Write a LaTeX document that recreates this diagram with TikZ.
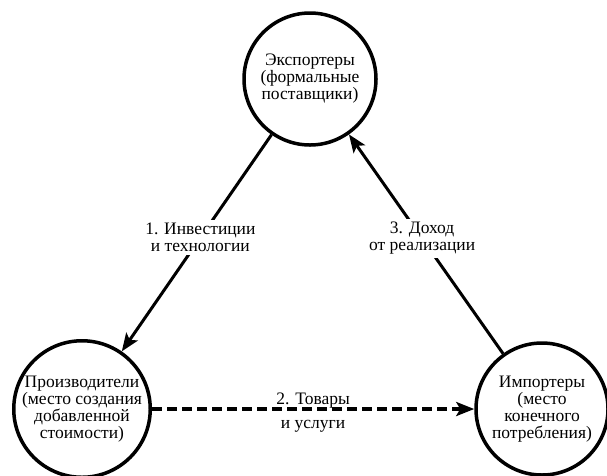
\documentclass[tikz,border=0pt]{standalone}
\usepackage{fontspec}
\setmainfont{Liberation Serif}
\usetikzlibrary{arrows.meta}
\begin{document}
\begin{tikzpicture}[x=1pt,y=-1pt,
  txt/.style={font=\fontsize{17.5}{17}\selectfont},
  circ/.style={circle, draw, line width=3.5pt, minimum size=132pt, inner sep=0pt, align=center, txt},
  conn/.style={line width=3pt, -{Stealth[length=18pt,width=14pt,inset=4pt]}},
  dconn/.style={conn, line width=4pt, dash pattern=on 10pt off 5pt},
  lbl/.style={fill=white, align=center, inner sep=3pt, txt}]
\useasboundingbox (0,0) rectangle (607,475);
\node[circ] (exp) at (310,79) {Экспортеры\\(формальные\\поставщики)};
\node[circ] (prod) at (82,409) {Производители\\(место создания\\добавленной\\стоимости)};
\node[circ] (imp) at (542,409) {Импортеры\\(место\\конечного\\потребления)};
\draw[conn] (exp) -- node[lbl, pos=0.475] {1. Инвестиции\\и технологии} (prod);
\draw[conn] (imp) -- node[lbl, pos=0.525] {3. Доход\\от реализации} (exp);
\draw[dconn] (prod) -- node[txt, pos=0.5, anchor=base, yshift=5pt] {2. Товары}
  node[txt, pos=0.5, anchor=base, yshift=-19pt] {и услуги} (imp);
\end{tikzpicture}
\end{document}
